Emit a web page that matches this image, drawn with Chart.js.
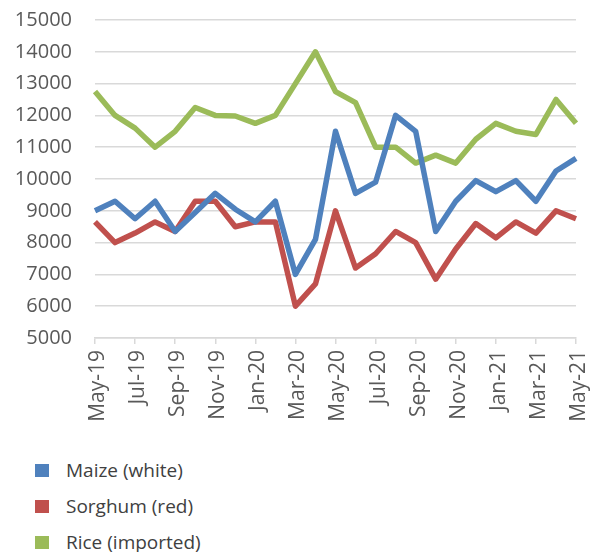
<!DOCTYPE html>
<html>
<head>
<meta charset="utf-8">
<script src="https://cdn.jsdelivr.net/npm/chart.js@4/dist/chart.umd.min.js"></script>
<style>
    body { margin: 0; background: #fff; font-family: "Open Sans", sans-serif; }
    #wrap { position: relative; width: 596px; height: 552px; }
    #legend { position: absolute; left: 35px; top: 452px; list-style: none; margin: 0; padding: 0; }
    #legend li { display: flex; align-items: center; height: 36px; font-size: 19px; color: #404040; }
    #legend .box { width: 14px; height: 13px; margin-right: 17px; }
</style>
</head>
<body>
<div id="wrap">
    <canvas id="priceChart" width="596" height="438"></canvas>
    <ul id="legend"></ul>
</div>
<script>
// Chart data
const months = [
    'May-19', 'Jun-19', 'Jul-19', 'Aug-19', 'Sep-19', 'Oct-19', 'Nov-19', 'Dec-19',
    'Jan-20', 'Feb-20', 'Mar-20', 'Apr-20', 'May-20', 'Jun-20', 'Jul-20', 'Aug-20',
    'Sep-20', 'Oct-20', 'Nov-20', 'Dec-20', 'Jan-21', 'Feb-21', 'Mar-21', 'Apr-21', 'May-21'
];
const maizeWhite = [
    9000, 9300, 8750, 9300, 8350, 8950, 9550, 9050, 8650, 9300, 7000, 8100, 11500,
    9550, 9900, 12000, 11500, 8350, 9300, 9950, 9600, 9950, 9300, 10250, 10650
];
const sorghumRed = [
    8650, 8000, 8300, 8650, 8350, 9300, 9300, 8500, 8650, 8650, 6000, 6700, 9000,
    7200, 7650, 8350, 8000, 6850, 7800, 8600, 8150, 8650, 8300, 9000, 8750
];
const riceImported = [
    12750, 12000, 11600, 11000, 11500, 12250, 12000, 11980, 11750, 12000, 13000, 14000, 12750,
    12400, 11000, 11000, 10500, 10750, 10500, 11250, 11750, 11500, 11400, 12500, 11750
];
const yTicks = [5000, 6000, 7000, 8000, 9000, 10000, 11000, 12000, 13000, 14000, 15000];

const seriesNames = ['Maize (white)', 'Sorghum (red)', 'Rice (imported)'];
const seriesColors = ['#4F81BD', '#C0504D', '#9BBB59'];

const gridColor = '#d9d9d9';
const fontFamily = '"Open Sans", sans-serif';

let priceChart;

// Build a line dataset
function makeDataset(i, values) {
    return {
        label: seriesNames[i],
        data: values,
        borderColor: seriesColors[i],
        backgroundColor: seriesColors[i],
        borderWidth: 5.5,
        pointRadius: 0,
        tension: 0,
        borderJoinStyle: 'round'
    };
}

// Initialize chart
function initializeChart() {
    const ctx = document.getElementById('priceChart').getContext('2d');
    priceChart = new Chart(ctx, {
        type: 'line',
        data: {
            labels: months,
            datasets: [
                makeDataset(0, maizeWhite),
                makeDataset(1, sorghumRed),
                makeDataset(2, riceImported)
            ]
        },
        options: {
            responsive: false,
            animation: false,
            layout: { padding: { top: 20, right: 20, left: 0, bottom: 0 } },
            plugins: {
                legend: { display: false },
                tooltip: { enabled: false }
            },
            scales: {
                x: {
                    offset: false,
                    afterFit: (scale) => {
                        scale.height = 100;
                        scale.paddingLeft = 0;
                        scale.paddingRight = 0;
                    },
                    grid: {
                        drawOnChartArea: false,
                        drawTicks: true,
                        tickLength: 6,
                        color: gridColor,
                        lineWidth: 1.5
                    },
                    border: { color: gridColor, width: 1.5 },
                    ticks: {
                        autoSkip: false,
                        minRotation: 90,
                        maxRotation: 90,
                        padding: 6,
                        labelOffset: 3,
                        color: '#595959',
                        font: { family: fontFamily, size: 21 },
                        callback: (value, index) => index % 2 === 0 ? months[index] : null
                    }
                },
                y: {
                    min: yTicks[0],
                    max: yTicks[yTicks.length - 1],
                    afterFit: (scale) => {
                        scale.width = 95;
                        scale.paddingTop = 0;
                        scale.paddingBottom = 0;
                    },
                    afterBuildTicks: (scale) => { scale.ticks = yTicks.map(v => ({ value: v })); },
                    grid: { color: gridColor, lineWidth: 1.5, drawTicks: false },
                    border: { display: false },
                    ticks: {
                        padding: 23,
                        color: '#595959',
                        font: { family: fontFamily, size: 20 },
                        callback: (value) => String(value)
                    }
                }
            }
        }
    });
}

// HTML legend, one row per series
function buildLegend() {
    const legendEl = document.getElementById('legend');
    priceChart.data.datasets.forEach(ds => {
        const li = document.createElement('li');
        li.innerHTML = `<span class="box" style="background:${ds.borderColor}"></span>${ds.label}`;
        legendEl.appendChild(li);
    });
}

initializeChart();
buildLegend();
</script>
</body>
</html>
